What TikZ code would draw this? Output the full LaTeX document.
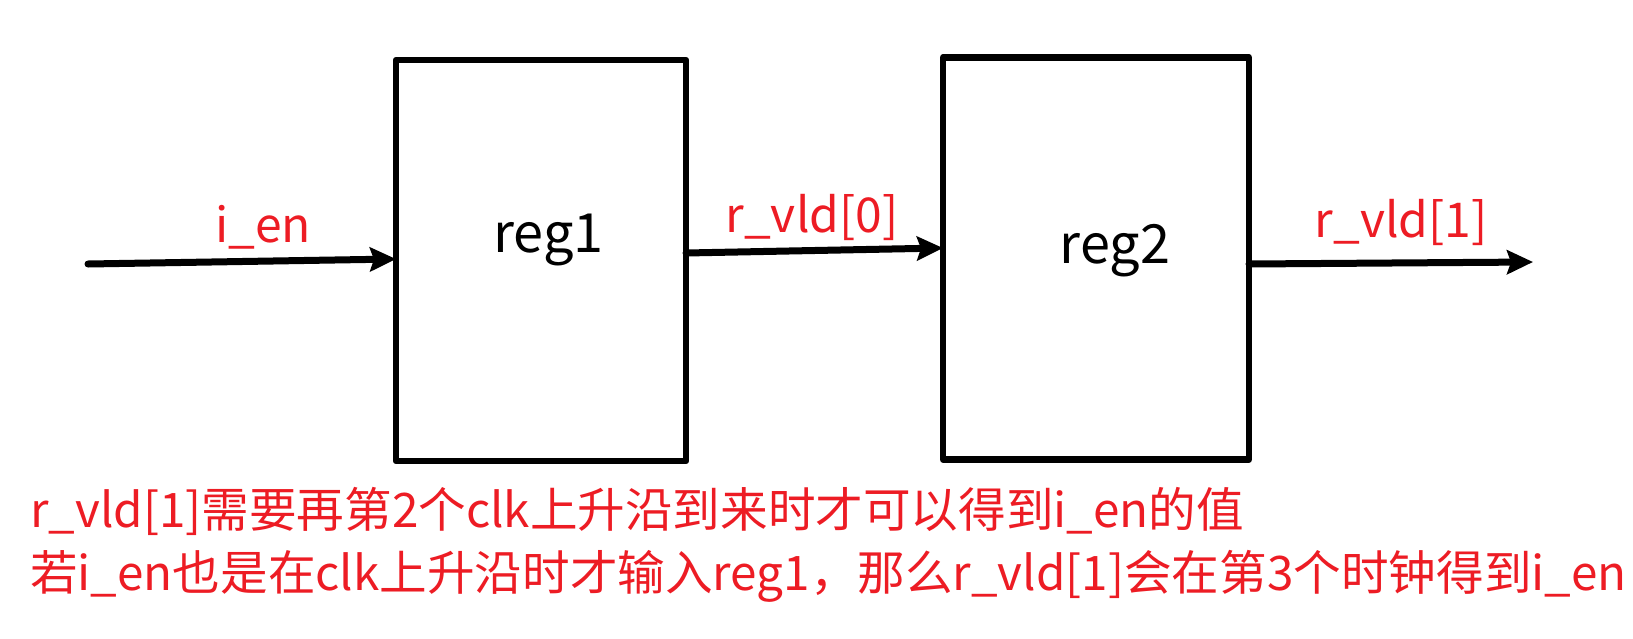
\documentclass[tikz,border=0pt]{standalone}
\usepackage{fontspec}
\setmainfont{Noto Sans CJK SC}
\usetikzlibrary{arrows.meta}
\definecolor{lblred}{RGB}{237,28,36}
\begin{document}
\begin{tikzpicture}[x=1pt,y=-1pt,
  regbox/.style={draw=black,line width=6.5pt,line join=round,inner sep=0pt,outer sep=0pt},
  wire/.style={line width=7pt,line cap=round,-{Stealth[length=26pt,width=24pt,inset=4pt]}},
  sig/.style={text=lblred,font=\fontsize{48}{58}\selectfont,anchor=base,inner sep=0pt},
  regtxt/.style={font=\fontsize{54}{64}\selectfont,anchor=base,inner sep=0pt},
  note/.style={text=lblred,font=\fontsize{47.6}{63}\selectfont,anchor=base west,inner sep=0pt}]
\useasboundingbox[fill=white] (0,0) rectangle (1633,638);

\node[regbox,minimum width=290pt,minimum height=401pt] (reg1) at (541,260.5) {};
\node[regbox,minimum width=306pt,minimum height=402pt] (reg2) at (1096,258.5) {};

\node[regtxt] (t1) at (548.5,252) {reg1};
\node[regtxt] (t2) at (1115,263) {reg2};

\coordinate (ien) at (88,264);
\coordinate (out) at (1533,262);

\draw[wire] (ien) -- ([yshift=1.5pt]reg1.west);
\draw[wire] ([yshift=7.5pt]reg1.east) -- ([yshift=10.5pt]reg2.west);
\draw[wire] ([yshift=-5.5pt]reg2.east) -- (out);

\node[sig] (l1) at (263,242) {i\_en};
\node[sig] (l2) at (812,232) {r\_vld[0]};
\node[sig] (l3) at (1401,237) {r\_vld[1]};

\node[note] (n1) at (30,527) {r\_vld[1]需要再第2个clk上升沿到来时才可以得到i\_en的值};
\node[note] (n2) at (30,590) {若i\_en也是在clk上升沿时才输入reg1，那么r\_vld[1]会在第3个时钟得到i\_en};
\end{tikzpicture}
\end{document}
